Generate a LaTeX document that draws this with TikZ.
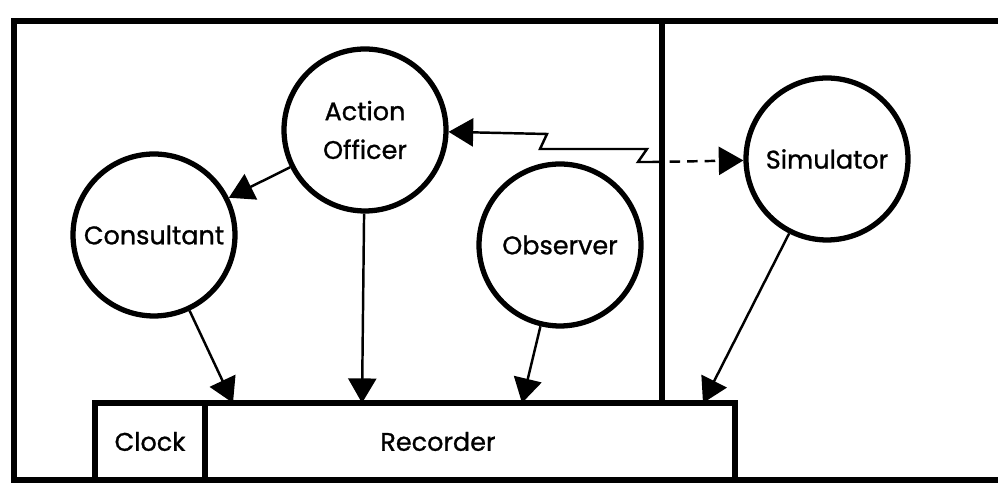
\documentclass[tikz,border=0pt]{standalone}
\usepackage{fontspec}
\setmainfont{Poppins}[FakeBold=1]
\usepackage{tikz}
\usetikzlibrary{arrows,arrows.meta,shapes,positioning}
\tikzstyle{arrow} = [line width=1.4pt,->,>={Triangle[length=14pt,width=16pt]}]
\tikzstyle{actor} = [circle, draw, line width=3pt, minimum size=3.24cm, inner sep=0pt, align=center]
\tikzstyle{box} = [rectangle, draw, line width=3pt, minimum height=1.54cm, inner sep=0pt, outer sep=0pt]
\tikzstyle{frame} = [line width=3.5pt]

\begin{document}
\begin{tikzpicture}[x=0.02cm, y=-0.02cm, font=\fontsize{14.5}{22}\selectfont]
\useasboundingbox (0,0) rectangle (998,492);

% Frame
\draw[frame] (1010,21) -- (14,21) -- (14,480) -- (1010,480);

% Recorder
\node (clock) [box, minimum width=2.2cm] at (150,441.5) {Clock};
\node (recorder) [box, minimum width=10.6cm, right=0pt of clock, label={[xshift=-0.64cm]center:Recorder}] {};

% Partition
\coordinate (divtop) at (662,21);
\draw[frame] (divtop) -- (divtop |- recorder.north);

% Participants
\node (officer) [actor] at (365,130) {Action\\Officer};
\node (consultant) [actor] at (154,235) {Consultant};
\node (observer) [actor] at (560,245) {Observer};
\node (simulator) [actor] at (827,159) {Simulator};

% Arrows
\coordinate (rc1) at (233,0 |- recorder.north);
\coordinate (rc2) at (362,0 |- recorder.north);
\coordinate (rc3) at (522,0 |- recorder.north);
\coordinate (rc4) at (703,0 |- recorder.north);
\draw[arrow] (officer) -- (consultant);
\draw[arrow] (consultant) -- (rc1);
\draw[arrow] (officer) -- (rc2);
\draw[arrow] (observer) -- (rc3);
\draw[arrow] (simulator) -- (rc4);

% Link to simulator
\coordinate (z1) at (547,134);
\coordinate (z2) at (540,149);
\coordinate (z3) at (647,149);
\coordinate (z4) at (638,162);
\coordinate (z5) at (652,162);
\draw[arrow, <-] (officer) -- (z1) -- (z2) -- (z3) -- (z4) -- (z5);
\draw[arrow, dash pattern=on 6pt off 4pt] (z5) -- (simulator);
\end{tikzpicture}
\end{document}
